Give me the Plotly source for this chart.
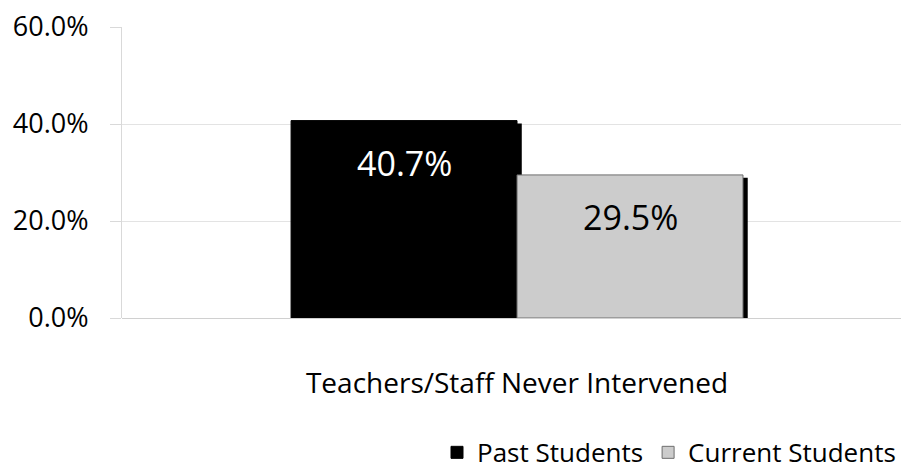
import plotly.graph_objects as go

category = ["Teachers/Staff Never Intervened"]
series_names = ["Past Students", "Current Students"]
past_values = [40.7]
current_values = [29.5]
y_ticks = [0, 20, 40, 60]
y_tick_labels = ["0.0%", "20.0%", "40.0%", "60.0%"]

FONT = "Open Sans, Noto Sans, sans-serif"
BAR_W = 0.286
SHADOW_DX = 0.006
SHADOW_DY = 0.6

fig = go.Figure()

# drop shadows behind the bars
for vals, off in [(past_values, -BAR_W), (current_values, 0)]:
    fig.add_trace(go.Bar(
        x=category, y=[v - SHADOW_DY for v in vals],
        width=BAR_W, offset=off + SHADOW_DX,
        marker=dict(color="#000000", line=dict(width=0)),
        showlegend=False, hoverinfo="skip",
    ))

fig.add_trace(go.Bar(
    name=series_names[0], x=category, y=past_values,
    width=BAR_W, offset=-BAR_W,
    marker=dict(color="#000000", line=dict(color="#000000", width=1)),
))
fig.add_trace(go.Bar(
    name=series_names[1], x=category, y=current_values,
    width=BAR_W, offset=0,
    marker=dict(color="#cccccc", line=dict(color="#6e6e6e", width=1)),
))

# value labels near top of each bar
for vals, off, col in [(past_values, -BAR_W, "#ffffff"), (current_values, 0, "#000000")]:
    for c, v in zip(category, vals):
        fig.add_annotation(
            x=c, y=v, text=f"{v:.1f}%", showarrow=False,
            xshift=(off + BAR_W / 2) * 790, yshift=-42,
            font=dict(family=FONT, size=34, color=col),
        )

fig.update_layout(
    width=901, height=469,
    margin=dict(l=122, r=0, t=27, b=151, autoexpand=False),
    plot_bgcolor="#ffffff", paper_bgcolor="#ffffff",
    barmode="overlay",
    font=dict(family=FONT, color="#000000"),
    legend=dict(
        orientation="h", x=1.0, xanchor="right", y=-0.462, yanchor="middle",
        font=dict(family=FONT, size=26), traceorder="normal",
        itemwidth=30, borderwidth=0, bgcolor="rgba(0,0,0,0)",
    ),
)
fig.update_xaxes(
    range=[-0.5, 0.486], showgrid=False, showline=False, zeroline=False,
    ticks="", tickfont=dict(family=FONT, size=28), ticklabelstandoff=46,
    automargin=False,
)
fig.update_yaxes(
    range=[0, 60], tickvals=y_ticks, ticktext=y_tick_labels,
    showgrid=True, gridcolor="#e3e3e3", gridwidth=1,
    zeroline=True, zerolinecolor="#d0d0d0", zerolinewidth=1,
    showline=True, linecolor="#d9d9d9", linewidth=1,
    ticks="outside", ticklen=11, tickcolor="#d9d9d9",
    tickfont=dict(family=FONT, size=27), ticklabelstandoff=16,
    automargin=False,
)

fig.write_html("out.html", config={"displayModeBar": False},
               post_script="document.body.style.margin='0';")
